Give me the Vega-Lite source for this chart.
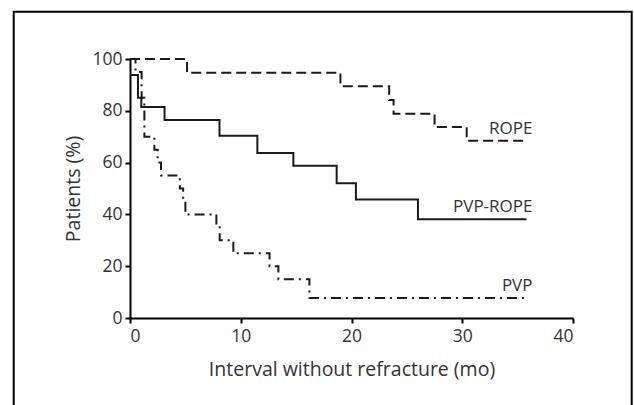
{
  "$schema": "https://vega.github.io/schema/vega-lite/v6.json",
  "width": 443,
  "height": 259,
  "autosize": {"type": "none"},
  "padding": {"left": 130, "top": 59, "right": 61, "bottom": 87},
  "background": "white",
  "config": {"view": {"stroke": null}, "font": "Open Sans"},
  "datasets": {
    "curves": [
      {"series": "ROPE", "t": 0, "v": 100},
      {"series": "ROPE", "t": 5.15, "v": 94.7},
      {"series": "ROPE", "t": 19.0, "v": 89.5},
      {"series": "ROPE", "t": 23.4, "v": 84.2},
      {"series": "ROPE", "t": 23.8, "v": 78.9},
      {"series": "ROPE", "t": 27.5, "v": 73.7},
      {"series": "ROPE", "t": 30.4, "v": 68.4},
      {"series": "ROPE", "t": 35.8, "v": 68.4},
      {"series": "PVP-ROPE", "t": 0, "v": 93.8},
      {"series": "PVP-ROPE", "t": 0.72, "v": 85},
      {"series": "PVP-ROPE", "t": 1.02, "v": 81.5},
      {"series": "PVP-ROPE", "t": 3.12, "v": 76.4},
      {"series": "PVP-ROPE", "t": 8.08, "v": 70.4},
      {"series": "PVP-ROPE", "t": 11.5, "v": 63.7},
      {"series": "PVP-ROPE", "t": 14.75, "v": 58.8},
      {"series": "PVP-ROPE", "t": 18.66, "v": 52.0},
      {"series": "PVP-ROPE", "t": 20.4, "v": 45.8},
      {"series": "PVP-ROPE", "t": 26.0, "v": 38.1},
      {"series": "PVP-ROPE", "t": 35.8, "v": 38.1},
      {"series": "PVP", "t": 0, "v": 100},
      {"series": "PVP", "t": 0.5, "v": 95},
      {"series": "PVP", "t": 1.05, "v": 85},
      {"series": "PVP", "t": 1.3, "v": 70},
      {"series": "PVP", "t": 2.2, "v": 65},
      {"series": "PVP", "t": 2.5, "v": 60},
      {"series": "PVP", "t": 2.8, "v": 55},
      {"series": "PVP", "t": 4.5, "v": 50},
      {"series": "PVP", "t": 4.8, "v": 45},
      {"series": "PVP", "t": 5.0, "v": 40},
      {"series": "PVP", "t": 7.8, "v": 35},
      {"series": "PVP", "t": 8.1, "v": 30},
      {"series": "PVP", "t": 9.33, "v": 25},
      {"series": "PVP", "t": 12.6, "v": 20},
      {"series": "PVP", "t": 13.4, "v": 15},
      {"series": "PVP", "t": 16.2, "v": 7.7},
      {"series": "PVP", "t": 35.8, "v": 7.7}
    ]
  },
  "layer": [
    {
      "data": {"values": [{}]},
      "mark": {"type": "rect", "filled": false, "color": "black", "strokeWidth": 2, "clip": false},
      "encoding": {
        "x": {"datum": -10.5, "type": "quantitative", "scale": {"domain": [0, 40], "nice": false}},
        "x2": {"datum": 45.3},
        "y": {"datum": 118.2, "type": "quantitative", "scale": {"domain": [0, 100], "nice": false}},
        "y2": {"datum": -40}
      }
    },
    {
      "data": {"name": "curves"},
      "mark": {"type": "line", "interpolate": "step-after", "strokeWidth": 2, "color": "#1a1a1a"},
      "encoding": {
        "x": {
          "field": "t", "type": "quantitative",
          "scale": {"domain": [0, 40], "nice": false},
          "axis": {
            "title": "Interval without refracture (mo)",
            "values": [0, 10, 20, 30, 40],
            "grid": false,
            "domainColor": "black", "domainWidth": 2,
            "tickColor": "black", "tickWidth": 2, "tickSize": 5,
            "labelFontSize": 17.5, "labelColor": "#333", "labelPadding": 4,
            "titleFontSize": 19.5, "titleFontWeight": "normal", "titleColor": "#333", "titlePadding": 16
          }
        },
        "y": {
          "field": "v", "type": "quantitative",
          "scale": {"domain": [0, 100], "nice": false},
          "axis": {
            "title": "Patients (%)",
            "values": [0, 20, 40, 60, 80, 100],
            "grid": false,
            "domainColor": "black", "domainWidth": 2,
            "tickColor": "black", "tickWidth": 2, "tickSize": 5,
            "labelFontSize": 17.5, "labelColor": "#333", "labelPadding": 3,
            "titleFontSize": 19.5, "titleFontWeight": "normal", "titleColor": "#333", "titlePadding": 8
          }
        },
        "strokeDash": {
          "field": "series", "type": "nominal",
          "scale": {"domain": ["ROPE", "PVP-ROPE", "PVP"], "range": [[10, 5], [1, 0], [10, 5, 2, 5]]},
          "legend": null
        }
      }
    },
    {
      "data": {"name": "curves"},
      "transform": [{"filter": "datum.t == 35.8"}],
      "mark": {"type": "text", "align": "right", "baseline": "middle", "dx": 6, "dy": -12, "fontSize": 17, "color": "#333"},
      "encoding": {
        "x": {"field": "t", "type": "quantitative", "scale": {"domain": [0, 40], "nice": false}},
        "y": {"field": "v", "type": "quantitative", "scale": {"domain": [0, 100], "nice": false}},
        "text": {"field": "series"}
      }
    }
  ]
}
